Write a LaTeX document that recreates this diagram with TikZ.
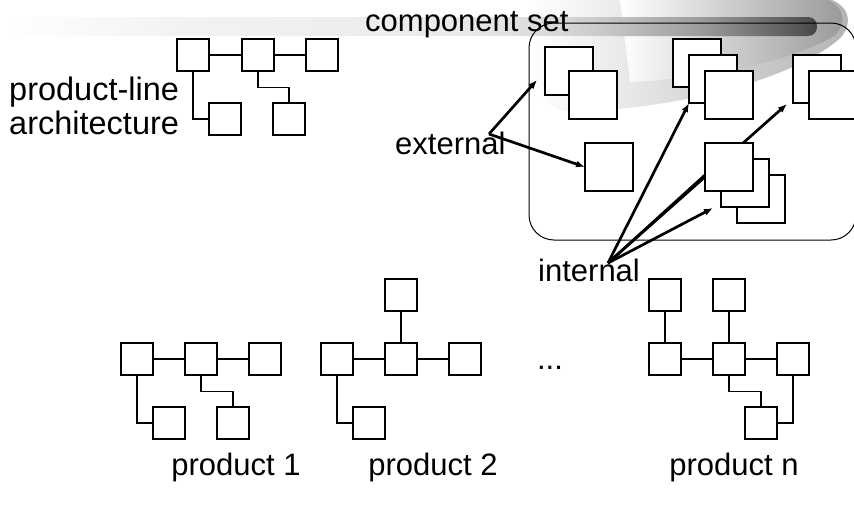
\documentclass[tikz,border=0pt]{standalone}
\usepackage{fontspec}
\setmainfont{Liberation Sans}
\usetikzlibrary{arrows.meta}
\pgfdeclarehorizontalshading{bannershade}{100bp}{color(0bp)=(white); color(25bp)=(white); color(36bp)=(black!5); color(52.5bp)=(black!8); color(59bp)=(black!15); color(62bp)=(black!22); color(68bp)=(black!40); color(74bp)=(black!68); color(75bp)=(black!75); color(100bp)=(black!75)}

\begin{document}
\begin{tikzpicture}[x=1pt, y=-1pt,
    comp/.style={draw, fill=white, line width=1.2pt, inner sep=0pt, minimum size=32pt},
    bigcomp/.style={comp, minimum size=48pt},
    link/.style={line width=1.2pt},
    ptr/.style={line width=2.7pt, -{Latex[length=9pt, width=7pt]}},
    lbl/.style={font=\fontsize{31}{34}\selectfont, inner sep=0pt}]
    \useasboundingbox (0,0) rectangle (854,507);
    \clip (0,0) rectangle (854,507);
    % banner
    \shade[left color=white, right color=black!30] (530,0) -- (832,0)
      .. controls (852,8) and (852,28) .. (838,40)
      .. controls (790,80) and (680,108) .. (575,112)
      .. controls (555,112) and (540,100) .. (530,80) -- cycle;
    \shade[left color=white, right color=black!40] (620,0) -- (828,0)
      .. controls (846,8) and (846,26) .. (834,36)
      .. controls (790,62) and (710,78) .. (630,82) -- cycle;
    \shade[shading=bannershade] (0,17) -- (808,17)
      .. controls (820,17) and (820,36) .. (808,36) -- (0,36) -- cycle;
    % component set
    \draw[line width=1pt, rounded corners=25pt] (529,23) rectangle (856,240);
    \coordinate (ext) at (489,134);
    \coordinate (int) at (608,263);
    \coordinate (tp1) at (537,80);
    \coordinate (ts1) at (585,167);
    \coordinate (tr1) at (787,104);
    \coordinate (tl1) at (716,165);
    \coordinate (tl2) at (713,208);
    % pointers
    \draw[ptr] (ext) -- (tp1);
    \draw[ptr] (ext) -- (ts1);
    \draw[ptr] (int) -- (689,103);
    \draw[ptr] (int) -- (tr1);
    \draw[ptr] (int) -- (tl1);
    \draw[ptr] (int) -- (tl2);
    % components
    \node[bigcomp] (p1b) at (569,71) {};
    \node[bigcomp] (p1f) at (593,95) {};
    \node[bigcomp] (t1) at (697,63) {};
    \node[bigcomp] (t2) at (713,79) {};
    \node[bigcomp] (t3) at (729,95) {};
    \node[bigcomp] (r1) at (817,79) {};
    \node[bigcomp] (r2) at (833,95) {};
    \node[bigcomp] (s1) at (609,167) {};
    \node[bigcomp] (l3) at (761,199) {};
    \node[bigcomp] (l2) at (745,183) {};
    \node[bigcomp] (l1) at (729,167) {};
    % product-line architecture
    \node[comp] (a1) at (193,55) {};
    \node[comp] (a2) at (258,55) {};
    \node[comp] (a3) at (322,55) {};
    \node[comp] (a4) at (225,119) {};
    \node[comp] (a5) at (289,119) {};
    \draw[link] (a1) -- (a2) (a2) -- (a3) (a1) |- (a4) (a2.south) -- ++(0,16) -| (a5);
    % product 1
    \node[comp] (b1) at (137,359) {};
    \node[comp] (b2) at (201,359) {};
    \node[comp] (b3) at (265,359) {};
    \node[comp] (b4) at (169,423) {};
    \node[comp] (b5) at (233,423) {};
    \draw[link] (b1) -- (b2) (b2) -- (b3) (b1) |- (b4) (b2.south) -- ++(0,16) -| (b5);
    % product 2
    \node[comp] (c1) at (337,359) {};
    \node[comp] (c2) at (401,359) {};
    \node[comp] (c3) at (465,359) {};
    \node[comp] (c4) at (401,295) {};
    \node[comp] (c5) at (369,423) {};
    \draw[link] (c1) -- (c2) (c2) -- (c3) (c2) -- (c4) (c1) |- (c5);
    % product n
    \node[comp] (d1) at (665,359) {};
    \node[comp] (d2) at (729,359) {};
    \node[comp] (d3) at (793,359) {};
    \node[comp] (d4) at (665,295) {};
    \node[comp] (d5) at (729,295) {};
    \node[comp] (d6) at (761,423) {};
    \draw[link] (d1) -- (d2) (d2) -- (d3) (d1) -- (d4) (d2) -- (d5)
      (d2.south) -- ++(0,16) -| (d6) (d3) |- (d6);
    % labels
    \node[lbl, align=left, anchor=north west, font=\fontsize{32.5}{34}\selectfont] (plarch) at (9,77) {product-line\\architecture};
    \node[lbl, anchor=base west] (compset) at (365,31) {component set};
    \node[lbl, anchor=base west] (external) at (395,154) {external};
    \node[lbl, anchor=base west] (internal) at (538,281) {internal};
    \node[lbl, anchor=base] (dots) at (550,369) {...};
    \node[lbl, anchor=base] (prod1) at (236,475) {product 1};
    \node[lbl, anchor=base] (prod2) at (433,475) {product 2};
    \node[lbl, anchor=base] (prodn) at (734,475) {product n};
\end{tikzpicture}
\end{document}
